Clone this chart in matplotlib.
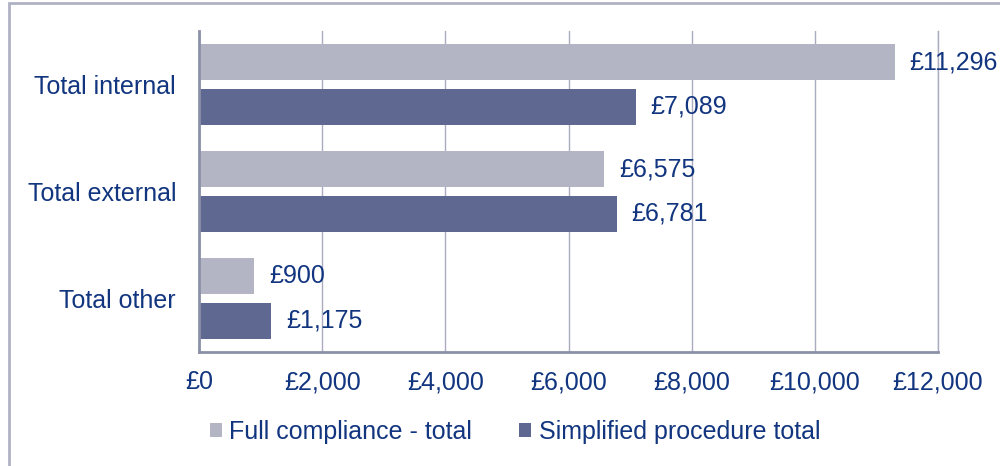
import matplotlib
matplotlib.use("Agg")
import matplotlib.pyplot as plt
from matplotlib.patches import Rectangle
import numpy as np

categories = ["Total internal", "Total external", "Total other"]
full_compliance = [11296, 6575, 900]
simplified = [7089, 6781, 1175]
series_names = ["Full compliance - total", "Simplified procedure total"]
xticks = [0, 2000, 4000, 6000, 8000, 10000, 12000]

light = "#B3B5C5"
dark = "#5F6891"
txt = "#12357F"
grid = "#A9ACBE"
FS = 18

plt.rcParams['font.family'] = ['Liberation Sans', 'DejaVu Sans']

fig = plt.figure(figsize=(10, 4.66), dpi=100)
ax = fig.add_axes([0.199, 1 - 352/466, 0.739, 321/466])

y = np.arange(len(categories))
h = 0.336
off = 0.208
ax.barh(y - off, full_compliance, height=h, color=light, label=series_names[0], zorder=3)
ax.barh(y + off, simplified, height=h, color=dark, label=series_names[1], zorder=3)

for yi, v in zip(y - off, full_compliance):
    ax.text(v + 245, yi, f"£{v:,}", va="center", ha="left", fontsize=FS, color=txt, zorder=4, clip_on=False)
for yi, v in zip(y + off, simplified):
    ax.text(v + 245, yi, f"£{v:,}", va="center", ha="left", fontsize=FS, color=txt, zorder=4, clip_on=False)

ax.set_ylim(2.5, -0.5)
ax.set_xlim(0, 12000)
ax.set_yticks(y)
ax.set_yticklabels(categories, fontsize=FS, color=txt)
ax.set_xticks(xticks)
ax.set_xticklabels([f"£{t:,}" for t in xticks], fontsize=FS, color=txt)
ax.tick_params(axis='both', length=0)
ax.tick_params(axis='y', pad=16.5)
ax.tick_params(axis='x', pad=13)
ax.xaxis.grid(True, color=grid, linewidth=1, zorder=0)
ax.axvline(12000, color=grid, linewidth=1, zorder=0, clip_on=False)
for s in ["top", "right"]:
    ax.spines[s].set_visible(False)
for s in ["left", "bottom"]:
    ax.spines[s].set_color("#8C90A6")
    ax.spines[s].set_linewidth(2)
    ax.spines[s].set_zorder(5)

leg = fig.legend(loc="center", bbox_to_anchor=(0.515, 1 - 432/466), ncol=2, frameon=False,
                 fontsize=FS, handlelength=0.48, handleheight=0.48, handletextpad=0.3,
                 columnspacing=1.9)
for t in leg.get_texts():
    t.set_color(txt)

fig.patches.append(Rectangle((8.5/1000, -0.1), 1.2, 1.1 - 3/466, transform=fig.transFigure,
                             fill=False, edgecolor="#B0B2C4", linewidth=2, zorder=0))

fig.savefig("out.png", dpi=100)
